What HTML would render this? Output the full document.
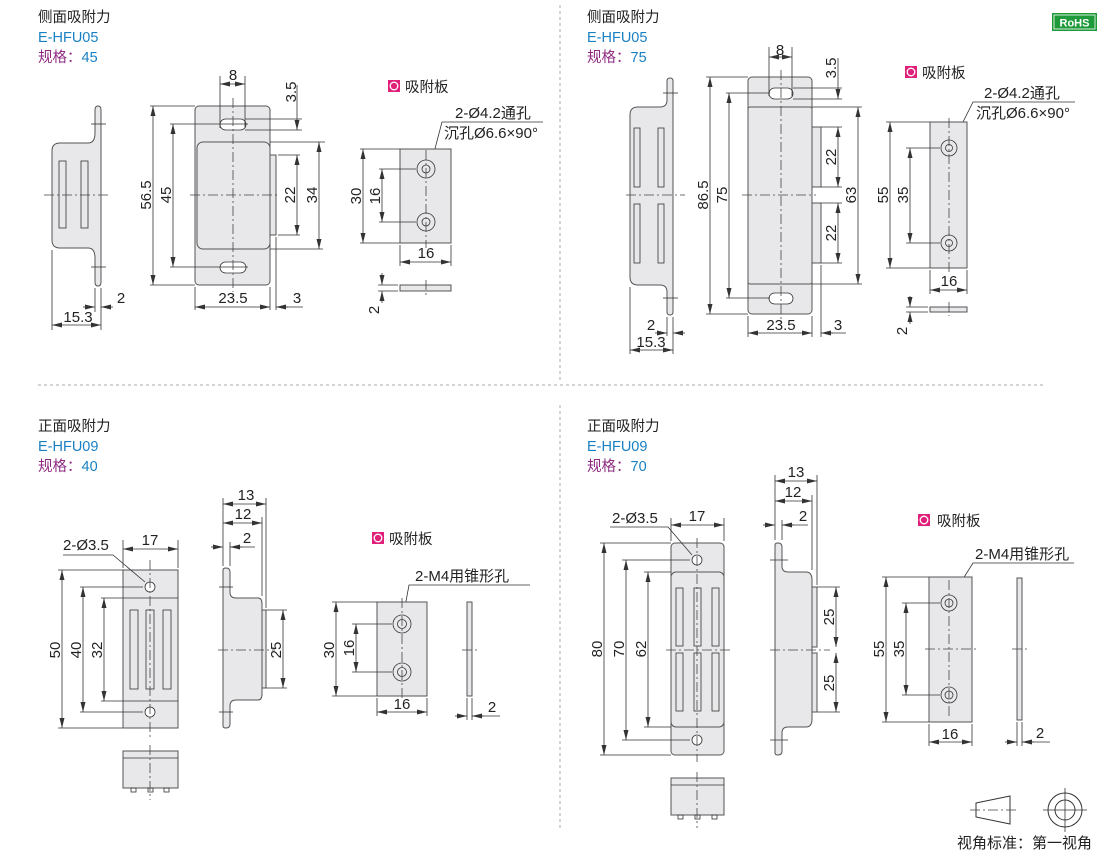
<!DOCTYPE html>
<html><head><meta charset="utf-8"><style>
body{margin:0;background:#fff}
svg{display:block;font-family:"Liberation Sans","Noto Sans CJK SC",sans-serif}
.p{fill:#e8e8ea;stroke:#555;stroke-width:1}
.l{stroke:#333;stroke-width:0.8;fill:none}
.c{stroke:#444;stroke-width:0.8;stroke-dasharray:10 3 2 3;fill:none}
.d{stroke:#333;stroke-width:0.8;fill:none;marker-start:url(#a);marker-end:url(#a)}
.t{font-size:15px;fill:#222}
.h{font-size:14.5px;fill:#222}
.b{font-size:14.5px;fill:#1a80c4}
.m{fill:#8e2a80}
</style></head><body>
<svg width="1110" height="857" viewBox="0 0 1110 857">
<defs><marker id="a" markerWidth="10" markerHeight="6" refX="10" refY="3" orient="auto-start-reverse" markerUnits="userSpaceOnUse"><path d="M10,3 L0,0.5 L0,5.5Z" fill="#333"/></marker></defs>
<!-- dividers -->
<line x1="560" y1="5" x2="560" y2="380" stroke="#aaa" stroke-dasharray="3 3"/>
<line x1="560" y1="405" x2="560" y2="830" stroke="#aaa" stroke-dasharray="3 3"/>
<line x1="38" y1="385" x2="1045" y2="385" stroke="#aaa" stroke-dasharray="3 3"/>
<rect x="1052" y="13" width="45" height="18" fill="#1f9a3a"/><rect x="1054" y="15" width="41" height="14" fill="none" stroke="#fff" stroke-width="0.8"/>
<text x="1074.5" y="26.5" font-size="11" font-weight="bold" fill="#fff" text-anchor="middle">RoHS</text>
<!-- headers -->
<text x="38" y="22" class="h">侧面吸附力</text><text x="38" y="42" class="b">E-HFU05</text><text x="38" y="62" class="h"><tspan class="m">规格：</tspan><tspan fill="#1a80c4">45</tspan></text>
<text x="587" y="22" class="h">侧面吸附力</text><text x="587" y="42" class="b">E-HFU05</text><text x="587" y="62" class="h"><tspan class="m">规格：</tspan><tspan fill="#1a80c4">75</tspan></text>
<text x="38" y="431" class="h">正面吸附力</text><text x="38" y="451" class="b">E-HFU09</text><text x="38" y="471" class="h"><tspan class="m">规格：</tspan><tspan fill="#1a80c4">40</tspan></text>
<text x="587" y="431" class="h">正面吸附力</text><text x="587" y="451" class="b">E-HFU09</text><text x="587" y="471" class="h"><tspan class="m">规格：</tspan><tspan fill="#1a80c4">70</tspan></text>

<!-- PANEL 1 side -->
<path class="p" d="M60,143 H88 Q95,143 95,133 V110 Q95,106 98,106 Q101,106 101,110 V282 Q101,286 98,286 Q95,286 95,282 V258 Q95,248 88,248 H60 Q52,248 52,240 V151 Q52,143 60,143Z"/>
<rect class="l" x="59" y="161" width="7" height="67"/><rect class="l" x="81" y="161" width="7" height="67"/>
<line class="c" x1="44" y1="195" x2="108" y2="195"/>
<line class="l" x1="91" y1="124" x2="106" y2="124"/><line class="l" x1="91" y1="267" x2="106" y2="267"/>
<line class="l" x1="52" y1="250" x2="52" y2="330"/><line class="l" x1="101" y1="288" x2="101" y2="330"/><line class="l" x1="95" y1="288" x2="95" y2="312"/>
<line class="d" x1="52" y1="325" x2="101" y2="325"/><text x="78" y="322" class="t" text-anchor="middle">15.3</text>
<line class="l" x1="83" y1="307" x2="95" y2="307" marker-end="url(#a)"/><line class="l" x1="113" y1="307" x2="101" y2="307" marker-end="url(#a)"/><text x="121" y="303" class="t" text-anchor="middle">2</text>
<!-- panel1 front -->
<rect class="p" x="195" y="106" width="75" height="179" rx="4"/>
<rect class="p" x="197" y="142" width="73" height="107" rx="6"/>
<rect class="p" x="270" y="155" width="6" height="80"/>
<rect class="l" x="220" y="119" width="26" height="11" rx="5.5" style="fill:#fff"/><rect class="l" x="220" y="262" width="26" height="11" rx="5.5" style="fill:#fff"/>
<line class="c" x1="233" y1="98" x2="233" y2="292"/><line class="c" x1="190" y1="195" x2="280" y2="195"/>
<line class="l" x1="220" y1="76" x2="220" y2="128"/><line class="l" x1="245" y1="76" x2="245" y2="128"/><line class="d" x1="220" y1="84" x2="245" y2="84"/><text x="233" y="80" class="t" text-anchor="middle">8</text>
<line class="l" x1="245" y1="119" x2="302" y2="119"/><line class="l" x1="245" y1="130" x2="302" y2="130"/><line class="l" x1="270" y1="142" x2="325" y2="142"/>
<line class="l" x1="297" y1="85" x2="297" y2="130" marker-end="url(#a)"/><line class="l" x1="297" y1="142" x2="297" y2="142"/><text transform="translate(296,92) rotate(-90)" class="t" text-anchor="middle">3.5</text>
<line class="l" x1="150" y1="106" x2="195" y2="106"/><line class="l" x1="150" y1="285" x2="195" y2="285"/>
<line class="d" x1="153" y1="106" x2="153" y2="285"/><text transform="translate(151,195) rotate(-90)" class="t" text-anchor="middle">56.5</text>
<line class="l" x1="170" y1="124" x2="248" y2="124"/><line class="l" x1="170" y1="267" x2="248" y2="267"/>
<line class="d" x1="173" y1="124" x2="173" y2="267"/><text transform="translate(171,195) rotate(-90)" class="t" text-anchor="middle">45</text>
<line class="l" x1="278" y1="155" x2="300" y2="155"/><line class="l" x1="278" y1="235" x2="300" y2="235"/>
<line class="d" x1="297" y1="155" x2="297" y2="235"/><text transform="translate(295,195) rotate(-90)" class="t" text-anchor="middle">22</text>
<line class="l" x1="270" y1="249" x2="323" y2="249"/>
<line class="d" x1="319" y1="142" x2="319" y2="249"/><text transform="translate(317,195) rotate(-90)" class="t" text-anchor="middle">34</text>
<line class="l" x1="195" y1="287" x2="195" y2="310"/><line class="l" x1="270" y1="287" x2="270" y2="310"/><line class="l" x1="276" y1="237" x2="276" y2="310"/>
<line class="d" x1="195" y1="307" x2="270" y2="307"/><text x="233" y="303" class="t" text-anchor="middle">23.5</text>
<line class="l" x1="288" y1="307" x2="276" y2="307" marker-end="url(#a)"/><line class="l" x1="276" y1="307" x2="303" y2="307"/><text x="297" y="303" class="t" text-anchor="middle">3</text>
<!-- panel1 plate -->
<rect x="388" y="80" width="12" height="12" fill="#e0207a"/><circle cx="394" cy="86" r="3.8" fill="none" stroke="#fff" stroke-width="1.3"/><text x="405" y="92" class="h">吸附板</text>
<text x="455" y="118" class="t">2-Ø4.2通孔</text><text x="444" y="138" class="t">沉孔Ø6.6×90°</text>
<polyline class="l" points="543,122 442,122 432,160"/>
<rect class="p" x="400" y="149" width="51" height="94"/>
<circle class="l" cx="426" cy="169" r="9" style="fill:none"/><circle class="l" cx="426" cy="169" r="4"/><circle class="l" cx="426" cy="222" r="9"/><circle class="l" cx="426" cy="222" r="4"/>
<line class="c" x1="426" y1="150" x2="426" y2="248"/>
<line class="l" x1="360" y1="149" x2="400" y2="149"/><line class="l" x1="360" y1="243" x2="400" y2="243"/>
<line class="d" x1="363" y1="149" x2="363" y2="243"/><text transform="translate(361,196) rotate(-90)" class="t" text-anchor="middle">30</text>
<line class="l" x1="379" y1="169" x2="416" y2="169"/><line class="l" x1="379" y1="222" x2="416" y2="222"/>
<line class="d" x1="382" y1="169" x2="382" y2="222"/><text transform="translate(380,196) rotate(-90)" class="t" text-anchor="middle">16</text>
<line class="l" x1="400" y1="245" x2="400" y2="266"/><line class="l" x1="451" y1="245" x2="451" y2="266"/>
<line class="d" x1="400" y1="262" x2="451" y2="262"/><text x="426" y="258" class="t" text-anchor="middle">16</text>
<rect class="p" x="400" y="285" width="51" height="6"/><line class="c" x1="426" y1="280" x2="426" y2="295"/>
<line class="l" x1="378" y1="285" x2="398" y2="285"/><line class="l" x1="378" y1="291" x2="398" y2="291"/>
<line class="l" x1="382" y1="273" x2="382" y2="285" marker-end="url(#a)"/><line class="l" x1="382" y1="303" x2="382" y2="291" marker-end="url(#a)"/>
<text transform="translate(379,310) rotate(-90)" class="t" text-anchor="middle">2</text>

<!-- PANEL 2 side -->
<path class="p" d="M638,107 H660 Q667,107 667,100 V81 Q667,78 670,78 Q673,78 673,81 V312 Q673,315 670,315 Q667,315 667,312 V292 Q667,285 660,285 H638 Q630,285 630,277 V115 Q630,107 638,107Z"/>
<rect class="l" x="634" y="128" width="6" height="59"/><rect class="l" x="658" y="128" width="6" height="59"/>
<rect class="l" x="634" y="204" width="6" height="59"/><rect class="l" x="658" y="204" width="6" height="59"/>
<line class="c" x1="626" y1="195" x2="685" y2="195"/>
<line class="l" x1="663" y1="93" x2="678" y2="93"/><line class="l" x1="663" y1="298" x2="678" y2="298"/>
<line class="l" x1="630" y1="287" x2="630" y2="354"/><line class="l" x1="673" y1="317" x2="673" y2="354"/><line class="l" x1="667" y1="317" x2="667" y2="336"/>
<line class="d" x1="630" y1="350" x2="673" y2="350"/><text x="651" y="347" class="t" text-anchor="middle">15.3</text>
<line class="l" x1="655" y1="333" x2="667" y2="333" marker-end="url(#a)"/><line class="l" x1="685" y1="333" x2="673" y2="333" marker-end="url(#a)"/><text x="651" y="330" class="t" text-anchor="middle">2</text>
<!-- panel2 front -->
<rect class="p" x="748" y="77" width="64" height="237" rx="4"/>
<rect class="p" x="748" y="107" width="64" height="177" rx="2"/>
<rect class="p" x="812" y="127" width="9" height="60"/><rect class="p" x="812" y="203" width="9" height="60"/>
<rect class="l" x="769" y="88" width="24" height="11" rx="5.5" style="fill:#fff"/><rect class="l" x="769" y="293" width="24" height="11" rx="5.5" style="fill:#fff"/>
<line class="c" x1="781" y1="70" x2="781" y2="322"/><line class="c" x1="742" y1="195" x2="816" y2="195"/>
<line class="l" x1="769" y1="47" x2="769" y2="96"/><line class="l" x1="792" y1="47" x2="792" y2="96"/><line class="d" x1="769" y1="57" x2="792" y2="57"/><text x="780" y="55" class="t" text-anchor="middle">8</text>
<line class="l" x1="793" y1="88" x2="842" y2="88"/><line class="l" x1="793" y1="99" x2="842" y2="99"/><line class="l" x1="812" y1="107" x2="862" y2="107"/>
<line class="l" x1="838" y1="58" x2="838" y2="99" marker-end="url(#a)"/><text transform="translate(836,68) rotate(-90)" class="t" text-anchor="middle">3.5</text>
<line class="l" x1="706" y1="77" x2="748" y2="77"/><line class="l" x1="706" y1="314" x2="748" y2="314"/>
<line class="d" x1="710" y1="77" x2="710" y2="314"/><text transform="translate(708,195) rotate(-90)" class="t" text-anchor="middle">86.5</text>
<line class="l" x1="726" y1="93" x2="770" y2="93"/><line class="l" x1="726" y1="298" x2="770" y2="298"/>
<line class="d" x1="729" y1="93" x2="729" y2="298"/><text transform="translate(727,195) rotate(-90)" class="t" text-anchor="middle">75</text>
<line class="l" x1="821" y1="127" x2="842" y2="127"/><line class="l" x1="821" y1="187" x2="842" y2="187"/><line class="l" x1="821" y1="203" x2="842" y2="203"/><line class="l" x1="821" y1="263" x2="842" y2="263"/>
<line class="d" x1="838" y1="127" x2="838" y2="187"/><text transform="translate(836,157) rotate(-90)" class="t" text-anchor="middle">22</text>
<line class="d" x1="838" y1="203" x2="838" y2="263"/><text transform="translate(836,233) rotate(-90)" class="t" text-anchor="middle">22</text>
<line class="l" x1="812" y1="284" x2="862" y2="284"/>
<line class="d" x1="858" y1="107" x2="858" y2="284"/><text transform="translate(856,195) rotate(-90)" class="t" text-anchor="middle">63</text>
<line class="l" x1="748" y1="316" x2="748" y2="337"/><line class="l" x1="812" y1="316" x2="812" y2="337"/><line class="l" x1="821" y1="265" x2="821" y2="337"/>
<line class="d" x1="748" y1="333" x2="812" y2="333"/><text x="781" y="330" class="t" text-anchor="middle">23.5</text>
<line class="l" x1="833" y1="333" x2="821" y2="333" marker-end="url(#a)"/><line class="l" x1="821" y1="333" x2="846" y2="333"/><text x="838" y="330" class="t" text-anchor="middle">3</text>
<!-- panel2 plate -->
<rect x="905" y="66" width="12" height="12" fill="#e0207a"/><circle cx="911" cy="72" r="3.8" fill="none" stroke="#fff" stroke-width="1.3"/><text x="922" y="78" class="h">吸附板</text>
<text x="984" y="98" class="t">2-Ø4.2通孔</text><text x="976" y="118" class="t">沉孔Ø6.6×90°</text>
<polyline class="l" points="1075,102 973,102 955,138"/>
<rect class="p" x="930" y="122" width="37" height="146"/>
<circle class="l" cx="949" cy="148" r="8"/><circle class="l" cx="949" cy="148" r="3.5"/><circle class="l" cx="949" cy="243" r="8"/><circle class="l" cx="949" cy="243" r="3.5"/>
<line class="c" x1="949" y1="118" x2="949" y2="272"/>
<line class="l" x1="886" y1="122" x2="930" y2="122"/><line class="l" x1="886" y1="268" x2="930" y2="268"/>
<line class="d" x1="890" y1="122" x2="890" y2="268"/><text transform="translate(888,195) rotate(-90)" class="t" text-anchor="middle">55</text>
<line class="l" x1="906" y1="148" x2="940" y2="148"/><line class="l" x1="906" y1="243" x2="940" y2="243"/>
<line class="d" x1="910" y1="148" x2="910" y2="243"/><text transform="translate(908,195) rotate(-90)" class="t" text-anchor="middle">35</text>
<line class="l" x1="930" y1="270" x2="930" y2="294"/><line class="l" x1="967" y1="270" x2="967" y2="294"/>
<line class="d" x1="930" y1="290" x2="967" y2="290"/><text x="949" y="286" class="t" text-anchor="middle">16</text>
<rect class="p" x="930" y="307" width="37" height="5"/><line class="c" x1="949" y1="302" x2="949" y2="316"/>
<line class="l" x1="906" y1="307" x2="928" y2="307"/><line class="l" x1="906" y1="312" x2="928" y2="312"/>
<line class="l" x1="910" y1="296" x2="910" y2="307" marker-end="url(#a)"/><line class="l" x1="910" y1="324" x2="910" y2="312" marker-end="url(#a)"/>
<text transform="translate(907,331) rotate(-90)" class="t" text-anchor="middle">2</text>

<!-- PANEL 3 front -->
<rect class="p" x="123" y="570" width="55" height="158"/>
<line class="l" x1="123" y1="598" x2="178" y2="598"/><line class="l" x1="123" y1="701" x2="178" y2="701"/>
<rect class="l" x="130" y="610" width="8" height="79"/><rect class="l" x="146" y="610" width="8" height="79"/><rect class="l" x="163" y="610" width="8" height="79"/>
<circle class="l" cx="150" cy="587" r="5" style="fill:#fff"/><circle class="l" cx="150" cy="712" r="5" style="fill:#fff"/>
<line class="c" x1="150" y1="560" x2="150" y2="738"/>
<line class="l" x1="123" y1="540" x2="123" y2="568"/><line class="l" x1="178" y1="540" x2="178" y2="568"/>
<line class="d" x1="123" y1="549" x2="178" y2="549"/><text x="150" y="545" class="t" text-anchor="middle">17</text>
<text x="63" y="550" class="t">2-Ø3.5</text><polyline class="l" points="63,555 113,555 145,582"/>
<line class="l" x1="58" y1="570" x2="123" y2="570"/><line class="l" x1="58" y1="728" x2="123" y2="728"/>
<line class="d" x1="62" y1="570" x2="62" y2="728"/><text transform="translate(60,650) rotate(-90)" class="t" text-anchor="middle">50</text>
<line class="l" x1="80" y1="587" x2="143" y2="587"/><line class="l" x1="80" y1="712" x2="143" y2="712"/>
<line class="d" x1="83" y1="587" x2="83" y2="712"/><text transform="translate(81,650) rotate(-90)" class="t" text-anchor="middle">40</text>
<line class="l" x1="101" y1="598" x2="123" y2="598"/><line class="l" x1="101" y1="701" x2="123" y2="701"/>
<line class="d" x1="104" y1="598" x2="104" y2="701"/><text transform="translate(102,650) rotate(-90)" class="t" text-anchor="middle">32</text>
<rect class="p" x="123" y="751" width="55" height="37"/><line class="l" x1="123" y1="758" x2="178" y2="758"/>
<rect class="l" x="131" y="788" width="5" height="4"/><rect class="l" x="148" y="788" width="5" height="4"/><rect class="l" x="164" y="788" width="5" height="4"/>
<line class="c" x1="150" y1="745" x2="150" y2="800"/>
<!-- panel3 side -->
<path class="p" d="M223,570 Q223,568 226,568 Q230,568 230,572 V592 Q230,598 236,598 H258 Q262,598 262,604 V694 Q262,700 258,700 H236 Q230,700 230,706 V724 Q230,728 226,728 Q223,728 223,726Z"/>
<rect class="p" x="262" y="610" width="4" height="78"/>
<line class="c" x1="218" y1="650" x2="275" y2="650"/>
<line class="l" x1="219" y1="587" x2="233" y2="587"/><line class="l" x1="219" y1="712" x2="233" y2="712"/>
<line class="l" x1="223" y1="498" x2="223" y2="566"/><line class="l" x1="266" y1="498" x2="266" y2="608"/><line class="l" x1="262" y1="517" x2="262" y2="596"/><line class="l" x1="230" y1="542" x2="230" y2="566"/>
<line class="d" x1="223" y1="504" x2="266" y2="504"/><text x="246" y="500" class="t" text-anchor="middle">13</text>
<line class="d" x1="223" y1="523" x2="262" y2="523"/><text x="243" y="519" class="t" text-anchor="middle">12</text>
<line class="l" x1="211" y1="547" x2="223" y2="547" marker-end="url(#a)"/><line class="l" x1="242" y1="547" x2="230" y2="547" marker-end="url(#a)"/><line class="l" x1="230" y1="547" x2="255" y2="547"/><text x="247" y="543" class="t" text-anchor="middle">2</text>
<line class="l" x1="266" y1="610" x2="287" y2="610"/><line class="l" x1="266" y1="688" x2="287" y2="688"/>
<line class="d" x1="283" y1="610" x2="283" y2="688"/><text transform="translate(281,650) rotate(-90)" class="t" text-anchor="middle">25</text>
<!-- panel3 plate -->
<rect x="372" y="532" width="12" height="12" fill="#e0207a"/><circle cx="378" cy="538" r="3.8" fill="none" stroke="#fff" stroke-width="1.3"/><text x="389" y="544" class="h">吸附板</text>
<text x="415" y="581" class="t">2-M4用锥形孔</text><polyline class="l" points="530,585 409,585 404,612"/>
<rect class="p" x="377" y="602" width="50" height="94"/>
<circle class="l" cx="402" cy="624" r="9"/><circle class="l" cx="402" cy="624" r="4.5"/><circle class="l" cx="402" cy="672" r="9"/><circle class="l" cx="402" cy="672" r="4.5"/>
<line class="c" x1="402" y1="598" x2="402" y2="700"/>
<line class="l" x1="332" y1="602" x2="377" y2="602"/><line class="l" x1="332" y1="696" x2="377" y2="696"/>
<line class="d" x1="336" y1="602" x2="336" y2="696"/><text transform="translate(334,650) rotate(-90)" class="t" text-anchor="middle">30</text>
<line class="l" x1="352" y1="624" x2="392" y2="624"/><line class="l" x1="352" y1="672" x2="392" y2="672"/>
<line class="d" x1="356" y1="624" x2="356" y2="672"/><text transform="translate(354,648) rotate(-90)" class="t" text-anchor="middle">16</text>
<line class="l" x1="377" y1="698" x2="377" y2="716"/><line class="l" x1="427" y1="698" x2="427" y2="716"/>
<line class="d" x1="377" y1="712" x2="427" y2="712"/><text x="402" y="709" class="t" text-anchor="middle">16</text>
<rect class="p" x="467" y="602" width="5" height="94"/><line class="c" x1="462" y1="650" x2="477" y2="650"/>
<line class="l" x1="467" y1="698" x2="467" y2="720"/><line class="l" x1="472" y1="698" x2="472" y2="720"/>
<line class="l" x1="455" y1="716" x2="467" y2="716" marker-end="url(#a)"/><line class="l" x1="484" y1="716" x2="472" y2="716" marker-end="url(#a)"/><line class="l" x1="472" y1="716" x2="500" y2="716"/><text x="492" y="712" class="t" text-anchor="middle">2</text>

<!-- PANEL 4 front -->
<rect class="p" x="671" y="543" width="53" height="212" rx="4"/>
<rect class="p" x="671" y="572" width="53" height="155" rx="5"/>
<rect class="l" x="676" y="588" width="7" height="58"/><rect class="l" x="694" y="588" width="7" height="58"/><rect class="l" x="712" y="588" width="7" height="58"/>
<rect class="l" x="676" y="653" width="7" height="58"/><rect class="l" x="694" y="653" width="7" height="58"/><rect class="l" x="712" y="653" width="7" height="58"/>
<circle class="l" cx="697" cy="560" r="5" style="fill:#fff"/><circle class="l" cx="697" cy="740" r="5" style="fill:#fff"/>
<line class="c" x1="697" y1="538" x2="697" y2="762"/><line class="c" x1="666" y1="650" x2="730" y2="650"/>
<line class="l" x1="671" y1="518" x2="671" y2="541"/><line class="l" x1="724" y1="518" x2="724" y2="541"/>
<line class="d" x1="671" y1="525" x2="724" y2="525"/><text x="697" y="521" class="t" text-anchor="middle">17</text>
<text x="612" y="523" class="t">2-Ø3.5</text><polyline class="l" points="610,527 668,527 692,555"/>
<line class="l" x1="600" y1="543" x2="671" y2="543"/><line class="l" x1="600" y1="755" x2="671" y2="755"/>
<line class="d" x1="604" y1="543" x2="604" y2="755"/><text transform="translate(602,649) rotate(-90)" class="t" text-anchor="middle">80</text>
<line class="l" x1="622" y1="560" x2="690" y2="560"/><line class="l" x1="622" y1="740" x2="690" y2="740"/>
<line class="d" x1="626" y1="560" x2="626" y2="740"/><text transform="translate(624,649) rotate(-90)" class="t" text-anchor="middle">70</text>
<line class="l" x1="644" y1="572" x2="671" y2="572"/><line class="l" x1="644" y1="727" x2="671" y2="727"/>
<line class="d" x1="648" y1="572" x2="648" y2="727"/><text transform="translate(646,649) rotate(-90)" class="t" text-anchor="middle">62</text>
<rect class="p" x="671" y="778" width="53" height="37"/><line class="l" x1="671" y1="785" x2="724" y2="785"/>
<rect class="l" x="678" y="815" width="5" height="4"/><rect class="l" x="695" y="815" width="5" height="4"/><rect class="l" x="712" y="815" width="5" height="4"/>
<line class="c" x1="697" y1="772" x2="697" y2="828"/>
<!-- panel4 side -->
<path class="p" d="M775,545 Q775,543 778,543 Q782,543 782,547 V566 Q782,572 788,572 H806 Q812,572 812,580 V719 Q812,727 806,727 H788 Q782,727 782,733 V751 Q782,755 778,755 Q775,755 775,753Z"/>
<rect class="p" x="812" y="587" width="5" height="60"/><rect class="p" x="812" y="653" width="5" height="59"/>
<line class="c" x1="770" y1="650" x2="830" y2="650"/>
<line class="l" x1="770" y1="560" x2="788" y2="560"/><line class="l" x1="770" y1="740" x2="788" y2="740"/>
<line class="l" x1="775" y1="475" x2="775" y2="540"/><line class="l" x1="817" y1="475" x2="817" y2="585"/><line class="l" x1="812" y1="495" x2="812" y2="570"/><line class="l" x1="782" y1="520" x2="782" y2="540"/>
<line class="d" x1="775" y1="481" x2="817" y2="481"/><text x="796" y="477" class="t" text-anchor="middle">13</text>
<line class="d" x1="775" y1="501" x2="812" y2="501"/><text x="793" y="497" class="t" text-anchor="middle">12</text>
<line class="l" x1="763" y1="525" x2="775" y2="525" marker-end="url(#a)"/><line class="l" x1="794" y1="525" x2="782" y2="525" marker-end="url(#a)"/><line class="l" x1="782" y1="525" x2="808" y2="525"/><text x="803" y="521" class="t" text-anchor="middle">2</text>
<line class="l" x1="817" y1="587" x2="840" y2="587"/><line class="l" x1="817" y1="712" x2="840" y2="712"/>
<line class="d" x1="836" y1="587" x2="836" y2="647"/><text transform="translate(834,617) rotate(-90)" class="t" text-anchor="middle">25</text>
<line class="d" x1="836" y1="653" x2="836" y2="712"/><text transform="translate(834,683) rotate(-90)" class="t" text-anchor="middle">25</text>
<!-- panel4 plate -->
<rect x="918" y="514" width="12" height="12" fill="#e0207a"/><circle cx="924" cy="520" r="3.8" fill="none" stroke="#fff" stroke-width="1.3"/><text x="937" y="526" class="h">吸附板</text>
<text x="975" y="559" class="t">2-M4用锥形孔</text><polyline class="l" points="1074,563 973,563 956,590"/>
<rect class="p" x="929" y="577" width="43" height="145"/>
<circle class="l" cx="949" cy="603" r="8"/><circle class="l" cx="949" cy="603" r="4"/><circle class="l" cx="949" cy="695" r="8"/><circle class="l" cx="949" cy="695" r="4"/>
<line class="c" x1="949" y1="580" x2="949" y2="718"/><line class="c" x1="925" y1="649" x2="976" y2="649"/>
<line class="l" x1="882" y1="577" x2="929" y2="577"/><line class="l" x1="882" y1="722" x2="929" y2="722"/>
<line class="d" x1="886" y1="577" x2="886" y2="722"/><text transform="translate(884,649) rotate(-90)" class="t" text-anchor="middle">55</text>
<line class="l" x1="902" y1="603" x2="940" y2="603"/><line class="l" x1="902" y1="695" x2="940" y2="695"/>
<line class="d" x1="906" y1="603" x2="906" y2="695"/><text transform="translate(904,649) rotate(-90)" class="t" text-anchor="middle">35</text>
<line class="l" x1="929" y1="724" x2="929" y2="746"/><line class="l" x1="972" y1="724" x2="972" y2="746"/>
<line class="d" x1="929" y1="742" x2="972" y2="742"/><text x="950" y="739" class="t" text-anchor="middle">16</text>
<rect class="p" x="1017" y="578" width="5" height="142"/><line class="c" x1="1012" y1="649" x2="1027" y2="649"/>
<line class="l" x1="1017" y1="722" x2="1017" y2="746"/><line class="l" x1="1022" y1="722" x2="1022" y2="746"/>
<line class="l" x1="1005" y1="742" x2="1017" y2="742" marker-end="url(#a)"/><line class="l" x1="1034" y1="742" x2="1022" y2="742" marker-end="url(#a)"/><line class="l" x1="1022" y1="742" x2="1050" y2="742"/><text x="1040" y="738" class="t" text-anchor="middle">2</text>
<!-- view symbol -->
<path d="M976,803 L1010,796 V824 L976,817Z" fill="none" stroke="#333" stroke-width="1"/>
<line class="c" x1="970" y1="810" x2="1016" y2="810"/>
<circle cx="1065" cy="810" r="17" fill="none" stroke="#333"/><circle cx="1065" cy="810" r="10" fill="none" stroke="#333"/>
<line class="l" x1="1043" y1="810" x2="1087" y2="810"/><line class="l" x1="1065" y1="788" x2="1065" y2="832"/>
<text x="957" y="848" font-size="15" fill="#222">视角标准：第一视角</text>
</svg>
</body></html>
